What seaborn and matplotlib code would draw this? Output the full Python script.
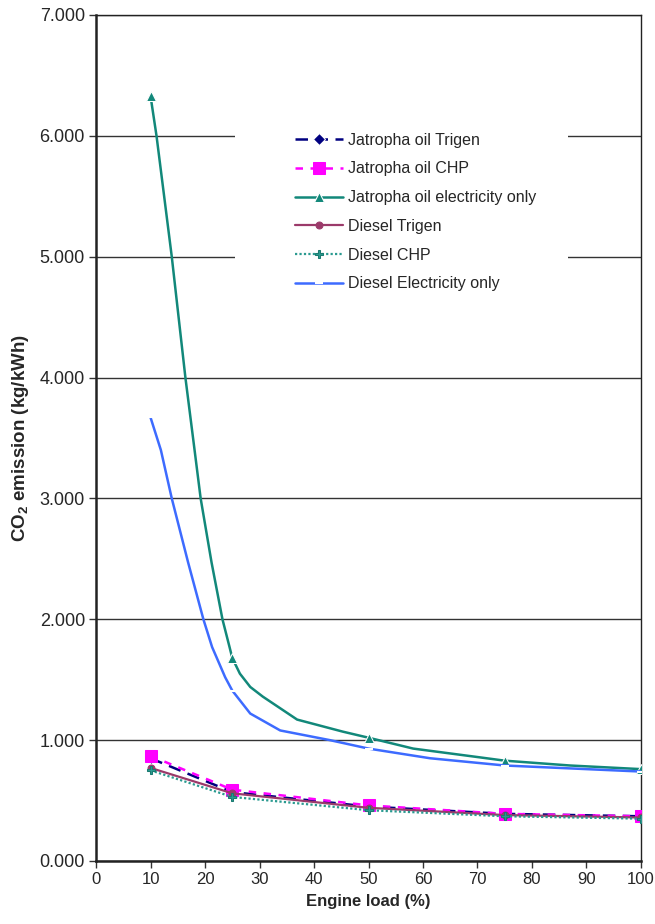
import matplotlib
matplotlib.use("Agg")
import matplotlib.pyplot as plt
import matplotlib.patches as mpatches
import seaborn as sns

# engine load where measurements were taken
load = [10, 25, 50, 75, 100]

jatropha_trigen = [0.85, 0.57, 0.45, 0.39, 0.37]
jatropha_chp = [0.87, 0.59, 0.46, 0.39, 0.37]
diesel_trigen = [0.77, 0.56, 0.44, 0.38, 0.36]
diesel_chp = [0.75, 0.53, 0.42, 0.37, 0.35]

# electricity-only curves, read along the drawn (smoothed) line
jatropha_elec_x = [10, 11.1, 13.9, 16.4, 18.0, 19.2, 21.2, 23.2, 24.5, 25, 26.4, 28.3,
                   30.6, 36.9, 45.3, 50, 58.2, 70, 75, 87, 100]
jatropha_elec_y = [6.33, 6.0, 5.0, 4.0, 3.43, 3.0, 2.47, 2.0, 1.77, 1.68, 1.55, 1.44,
                   1.36, 1.17, 1.07, 1.02, 0.93, 0.86, 0.83, 0.79, 0.76]
diesel_elec_x = [10, 11.9, 13.9, 16.9, 19.7, 21.3, 23.7, 25, 28.3, 33.8, 42.9, 50,
                 61.3, 75, 100]
diesel_elec_y = [3.67, 3.40, 3.0, 2.47, 2.0, 1.77, 1.52, 1.41, 1.22, 1.08, 1.0, 0.93,
                 0.85, 0.79, 0.74]

sns.set_style("white")
plt.rcParams['font.family'] = ['Liberation Sans', 'DejaVu Sans']
plt.rcParams['mathtext.fontset'] = 'custom'
plt.rcParams['mathtext.rm'] = 'Liberation Sans:bold'
plt.rcParams['mathtext.default'] = 'rm'

fig = plt.figure(figsize=(6.55, 9.24), dpi=100)
ax = fig.add_axes([0.1466, 0.0682, 0.832, 0.9156])

ax.set_xlim(0, 100)
ax.set_ylim(0, 7)
ax.set_yticks(range(0, 8))
ax.set_yticklabels([f"{v:.3f}" for v in range(0, 8)])
ax.set_xticks(range(0, 101, 10))
ax.yaxis.grid(True, color='#333333', linewidth=1.0)
ax.set_axisbelow(True)

# white area behind the legend hides the gridlines
ax.add_patch(mpatches.Rectangle((0.255, 0.663), 0.611, 0.222, transform=ax.transAxes,
                                facecolor='white', edgecolor='none', zorder=1))

sns.lineplot(x=load, y=jatropha_trigen, ax=ax, color='#000080', linewidth=1.8,
             linestyle=(0, (5, 3)), marker='D', markersize=6,
             label='Jatropha oil Trigen', zorder=3)
sns.lineplot(x=load, y=jatropha_chp, ax=ax, color='#ff00ff', linewidth=1.8,
             linestyle=(0, (3, 3)), marker='s', markersize=8, markeredgecolor='#ff00ff',
             label='Jatropha oil CHP', zorder=3)
sns.lineplot(x=jatropha_elec_x, y=jatropha_elec_y, ax=ax, color='#12887a', linewidth=1.8,
             marker='^', markersize=7, markevery=[0, 9, 15, 18, 20], sort=False,
             label='Jatropha oil electricity only', zorder=3)
sns.lineplot(x=load, y=diesel_trigen, ax=ax, color='#9b3a6a', linewidth=1.6,
             marker='o', markersize=5, markeredgecolor='#9b3a6a',
             label='Diesel Trigen', zorder=3)
sns.lineplot(x=load, y=diesel_chp, ax=ax, color='#2a9a90', linewidth=1.6,
             linestyle=(0, (1, 1)), marker='P', markersize=6, markeredgecolor='#1a7a70',
             label='Diesel CHP', zorder=3)
sns.lineplot(x=diesel_elec_x, y=diesel_elec_y, ax=ax, color='#3d6bff', linewidth=1.8,
             marker='_', markersize=6, markeredgewidth=1.5, markevery=[0, 7, 11, 13, 14],
             sort=False, label='Diesel Electricity only', zorder=3)

leg = ax.legend(loc='upper left', bbox_to_anchor=(0.345, 0.874), frameon=False,
                fontsize=11.5, handlelength=3.0, labelspacing=0.86, handletextpad=0.3,
                borderpad=0.2)

for s in ax.spines.values():
    s.set_color('#222222')
    s.set_linewidth(1.0)
ax.spines['left'].set_linewidth(1.8)
ax.spines['bottom'].set_linewidth(1.8)

ax.tick_params(axis='both', direction='out', length=5, width=1, color='#333333',
               left=True, bottom=True, pad=3)
ax.tick_params(axis='y', labelsize=13)
ax.tick_params(axis='x', labelsize=12)

ax.set_xlabel('Engine load (%)', fontsize=12, fontweight='bold', labelpad=5)
ax.set_ylabel(r'CO$_2$ emission (kg/kWh)', fontsize=13.5, fontweight='bold', labelpad=6)

fig.savefig('out.png', dpi=100)
